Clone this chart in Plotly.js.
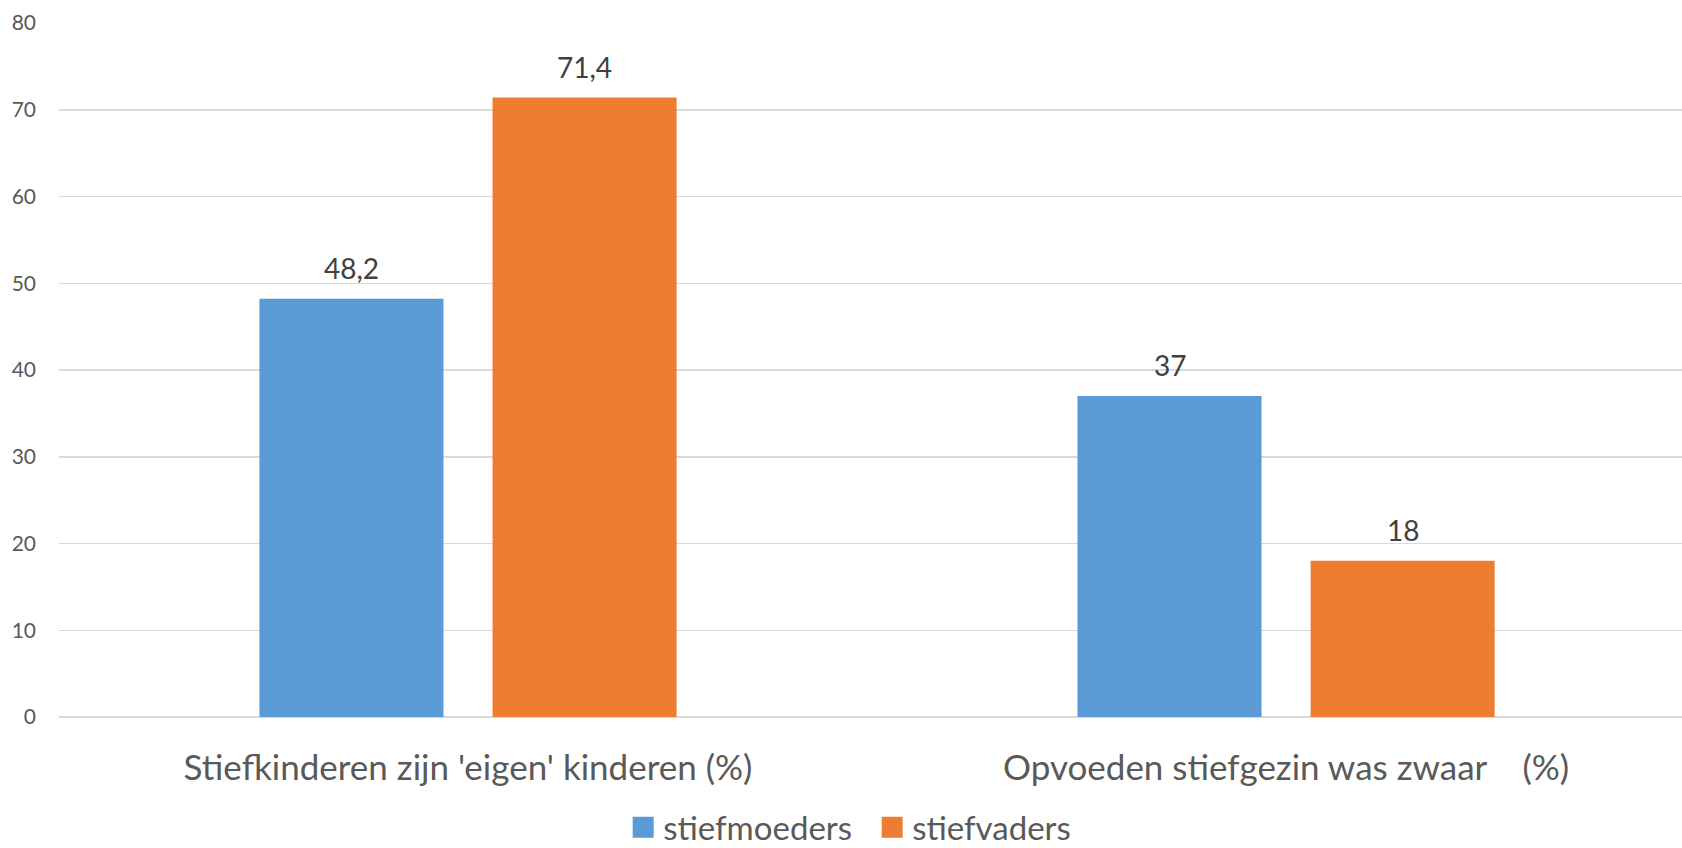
<!DOCTYPE html>
<html>
<head>
<meta charset="utf-8">
<script src="https://cdn.plot.ly/plotly-3.0.1.min.js"></script>
<style>
html,body{margin:0;padding:0;background:#fff;}
#chart{width:1682px;height:848px;}
</style>
</head>
<body>
<div id="chart"></div>
<script>
var categories = ["Stiefkinderen zijn 'eigen' kinderen (%)", "Opvoeden stiefgezin was zwaar    (%)"];
var seriesNames = ["stiefmoeders", "stiefvaders"];
var stiefmoeders = [48.2, 37];
var stiefvaders = [71.4, 18];
var valueLabels = [["48,2", "37"], ["71,4", "18"]];
var yTicks = [0, 10, 20, 30, 40, 50, 60, 70, 80];
var colors = ["#5B9BD5", "#ED7D31"];

var FONT = "Lato, 'Open Sans', sans-serif";
var catIdx = categories.map(function(c, i){ return i; });

var series = [stiefmoeders, stiefvaders];
var BAR_W = 0.225;
var offsets = [-0.255, 0.03];
var traces = series.map(function(vals, k){
  return {
    type: 'bar',
    x: catIdx,
    y: vals,
    name: seriesNames[k],
    width: BAR_W,
    offset: offsets[k],
    marker: {color: colors[k], line: {width: 0}},
    showlegend: false,
    hoverinfo: 'none'
  };
});
// legend entries (same series, legend-only markers)
seriesNames.forEach(function(n, k){
  traces.push({
    type: 'scatter', mode: 'markers', x: [null], y: [null], name: n,
    marker: {symbol: 'square', size: 16, color: colors[k], line: {width: 5, color: colors[k]}},
    showlegend: true, hoverinfo: 'none'
  });
});

// value labels above bars
var annotations = [];
series.forEach(function(vals, k){
  vals.forEach(function(v, i){
    annotations.push({
      x: catIdx[i] + offsets[k] + BAR_W / 2, y: v,
      xref: 'x', yref: 'y',
      text: valueLabels[k][i], showarrow: false,
      xanchor: 'center', yanchor: 'bottom', yshift: 12,
      font: {family: FONT, size: 28, color: '#404040'}
    });
  });
});

var layout = {
  width: 1682, height: 848,
  margin: {l: 59, r: 0, t: 23, b: 131, autoexpand: false},
  paper_bgcolor: '#ffffff', plot_bgcolor: '#ffffff',
  font: {family: FONT, color: '#595959'},
  showlegend: true,
  annotations: annotations,
  legend: {
    orientation: 'h', x: 0.3705, xanchor: 'left', xref: 'container',
    y: -0.159, yanchor: 'middle', yref: 'paper',
    font: {family: FONT, size: 33, color: '#595959'},
    entrywidth: 204, entrywidthmode: 'pixels',
    itemsizing: 'trace', traceorder: 'normal'
  },
  xaxis: {
    range: [-0.5, 1.484],
    tickmode: 'array', tickvals: catIdx, ticktext: categories,
    tickfont: {family: FONT, size: 35, color: '#595959'},
    showgrid: false, zeroline: false, showline: false,
    ticks: '', ticklabelstandoff: 27, fixedrange: true
  },
  yaxis: {
    range: [0, 80],
    tickmode: 'array', tickvals: yTicks, ticktext: yTicks.map(String),
    tickfont: {family: FONT, size: 21, color: '#595959'},
    showgrid: true, gridcolor: '#D9D9D9', gridwidth: 1.5,
    zeroline: true, zerolinecolor: '#D9D9D9', zerolinewidth: 1.5,
    showline: false, ticks: '', ticklabelstandoff: 22, fixedrange: true
  }
};

Plotly.newPlot('chart', traces, layout, {displayModeBar: false, staticPlot: true});
</script>
</body>
</html>
